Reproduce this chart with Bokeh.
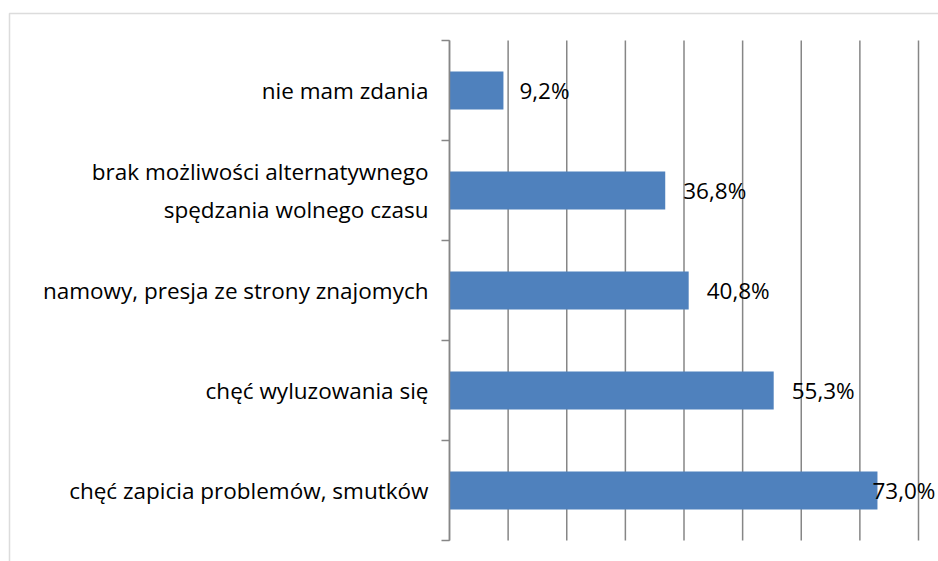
from bokeh.plotting import figure
from bokeh.models import Range1d, FixedTicker, ColumnDataSource, LabelSet, BoxAnnotation
from bokeh.core.properties import value
from bokeh.embed import file_html
from bokeh.resources import INLINE

categories = [
    "chęć zapicia problemów, smutków",
    "chęć wyluzowania się",
    "namowy, presja ze strony znajomych",
    "brak możliwości alternatywnego\nspędzania wolnego czasu",
    "nie mam zdania",
]
values = [73.0, 55.3, 40.8, 36.8, 9.2]
value_labels = ["73,0%", "55,3%", "40,8%", "36,8%", "9,2%"]
x_ticks = [0, 10, 20, 30, 40, 50, 60, 70, 80]

# pixel offsets of the value labels from the bar ends
label_offsets = [-5, 18, 18, 18, 16]

GRID = "#868686"
BAR = "#4F81BD"
FONT = "Open Sans"

W, H = 938, 561
X0_PX, X80_PX = 449, 918      # pixel position of 0 % and 80 %
YTOP_PX, YBOT_PX = 40, 540    # pixel extent of the category band
ncat = len(categories)
sx = (X80_PX - X0_PX) / 80.0
sy = (YBOT_PX - YTOP_PX) / ncat

p = figure(width=W, height=H, output_backend="svg", toolbar_location=None,
           x_range=Range1d(-X0_PX / sx, (W - X0_PX) / sx),
           y_range=Range1d(-(H - YBOT_PX) / sy, ncat + YTOP_PX / sy),
           min_border=0, min_border_left=0, min_border_right=0,
           min_border_top=0, min_border_bottom=0)
p.outline_line_color = None
p.background_fill_color = "white"
p.border_fill_color = "white"
p.xgrid.visible = False
p.ygrid.visible = False
p.xaxis.visible = False

centers = [i + 0.5 for i in range(ncat)]
src = ColumnDataSource(dict(y=centers, v=values, lab=value_labels, off=label_offsets))

# vertical gridlines spanning the category band only
p.segment(x0=x_ticks, x1=x_ticks, y0=[0] * len(x_ticks), y1=[ncat] * len(x_ticks),
          line_color=GRID, line_width=1.5)

p.hbar(y="y", right="v", left=0, height=0.38, source=src, fill_color=BAR, line_color=None)

ya = p.yaxis[0]
ya.fixed_location = 0
ya.bounds = (0, ncat)
ya.ticker = FixedTicker(ticks=centers, minor_ticks=list(range(ncat + 1)))
ya.major_label_overrides = {c: t for c, t in zip(centers, categories)}
ya.major_tick_line_color = None
ya.major_tick_out = 0
ya.major_tick_in = 0
ya.minor_tick_out = 8
ya.minor_tick_in = 0
ya.minor_tick_line_color = GRID
ya.minor_tick_line_width = 1.5
ya.axis_line_color = GRID
ya.axis_line_width = 1.5
ya.major_label_standoff = 13
ya.major_label_text_font = FONT
ya.major_label_text_font_size = "22.5px"
ya.major_label_text_color = "black"

labels = LabelSet(x="v", y="y", text="lab", x_offset="off", source=src,
                  text_font=value(FONT), text_font_size="22.5px", text_color="black",
                  text_baseline="middle", text_align="left")
p.add_layout(labels)

# outer chart border (top and left edges; right/bottom fall outside the picture)
border = BoxAnnotation(left=9, right=5000, top=H - 13, bottom=-5000,
                       left_units="screen", right_units="screen",
                       top_units="screen", bottom_units="screen",
                       fill_color=None, fill_alpha=0, line_color="#8c8c8c", line_width=1.5)
p.add_layout(border)

open("out.html", "w").write(file_html(p, INLINE))
